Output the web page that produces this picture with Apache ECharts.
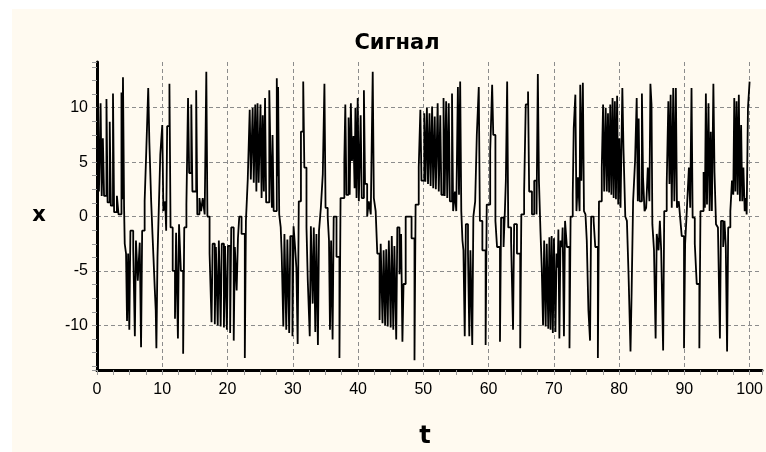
<!DOCTYPE html>
<html>
<head>
<meta charset="utf-8">
<title>Сигнал</title>
<script src="https://cdn.jsdelivr.net/npm/echarts@6/dist/echarts.min.js"></script>
<style>
  html, body { margin: 0; padding: 0; background: #fff; }
  #chart { width: 766px; height: 452px; }
</style>
</head>
<body>
<div id="chart"></div>
<script>
// sampled signal, [t, x] = value x held from time t until the next point
const sig0to17 = [
  [0, 6.5], [0.3, 2.3], [0.55, 10.4], [0.72, 1.9], [0.9, 7.2], [1.08, 1.9], [1.45, 10.8], [1.62, 1.3],
  [1.95, 8.7], [2.12, 1.0], [2.45, 11.3], [2.62, 0.4], [3.05, 1.9], [3.3, 0.2], [3.75, 11.4], [3.9, 1.6],
  [3.98, 12.8], [4.15, 0.8], [4.25, -2.5], [4.45, -3.4], [4.6, -9.6], [4.77, -3.4], [4.95, -10.4],
  [5.12, -1.3], [5.55, -3.0], [5.8, -11.0], [5.97, -2.2], [6.25, -5.9], [6.55, -2.4], [6.75, -12.0],
  [6.92, -1.3], [7.3, 1.4], [7.55, 6.0], [7.85, 11.8], [8.02, 6.9], [8.3, 1.4], [8.5, -1.6],
  [8.65, -3.7], [8.85, -6.6], [9.0, -8.6], [9.1, -12.1], [9.27, -3.7], [9.5, 1.4], [9.7, 5.7],
  [10.0, 8.4], [10.17, 0.5], [10.45, 1.4], [10.6, -1.3], [10.75, 8.3], [11.1, 12.2], [11.27, -1.0],
  [11.6, -5.0], [11.95, -9.4], [12.12, -1.5], [12.4, -11.2], [12.57, -0.7], [12.85, -5.0],
  [13.2, -12.6], [13.37, -1.0], [13.7, 1.1], [13.95, 10.9], [14.12, 4.0], [14.45, 10.3],
  [14.62, 2.3], [15.2, 11.6], [15.37, 0.2], [15.7, 1.7], [15.95, 0.5], [16.2, 1.7], [16.5, 0.2],
  [16.75, 13.3], [16.92, 0.0], [17.25, -3.4]
];
const sig17to34 = [
  [17.55, -9.7], [17.72, -2.5], [18.05, -9.9], [18.22, -2.8], [18.5, -10.0], [18.67, -2.2],
  [18.95, -10.1], [19.12, -2.5], [19.45, -10.2], [19.62, -2.7], [19.9, -10.4], [20.07, -2.7],
  [20.4, -10.7], [20.57, -1.0], [20.95, -11.4], [21.12, -2.8], [21.4, -6.8], [21.6, -2.0],
  [21.8, 0.0], [22.15, -1.6], [22.65, -13.0], [22.82, -0.4], [23.1, 3.4],
  [23.4, 9.8], [23.57, 3.4], [23.85, 10.0], [24.02, 3.1], [24.25, 10.3], [24.42, 2.3], [24.6, 10.4],
  [24.77, 3.1], [25.05, 10.3], [25.22, 1.7], [25.4, 9.3], [25.57, 2.3], [25.75, 10.9], [25.92, 1.3],
  [26.4, 11.6], [26.57, 6.1], [26.8, 0.8], [26.9, 7.5], [27.07, 0.5], [27.55, 12.7], [27.7, 3.7],
  [27.75, 11.9], [27.92, 0.2], [28.15, -1.0], [28.3, -3.4],
  [28.55, -10.1], [28.72, -1.6], [29.0, -10.4], [29.17, -2.1], [29.45, -10.7], [29.62, -1.8],
  [29.95, -11.0], [30.12, -0.9], [30.35, -2.8], [30.55, -4.7], [30.75, -11.7], [30.92, 1.4],
  [31.25, 7.8], [31.6, 12.4], [31.77, 4.5], [32.1, -1.0], [32.3, -5.9], [32.6, -11.0],
  [32.77, -0.9], [33.05, -8.0], [33.22, -1.0], [33.45, -10.6], [33.62, -1.6], [33.85, -11.8],
  [34.02, -1.3]
];
const sig34to49 = [
  [34.3, 0.8], [34.6, 3.9], [34.85, 12.2], [35.02, 0.8], [35.35, 0.0], [35.55, -2.2],
  [35.7, -10.4], [35.87, -2.2], [36.1, -11.3], [36.27, 0.0], [36.7, -3.7], [37.15, -13.0],
  [37.32, 1.7], [37.9, 5.2], [38.05, 10.3], [38.22, 2.0], [38.55, 9.1], [38.72, 2.0], [38.9, 10.4],
  [39.07, 5.1], [39.3, 7.4], [39.47, 2.6], [39.6, 10.0], [39.77, 1.7], [39.95, 10.9], [40.12, 1.4],
  [40.4, 9.3], [40.57, 1.7], [40.9, 11.6], [41.07, 3.0], [41.4, 0.0], [41.65, 1.4], [41.95, 0.2],
  [42.25, 13.3], [42.42, 1.7], [42.7, 0.5], [42.95, -3.4],
  [43.3, -9.5], [43.47, -2.5], [43.75, -9.8], [43.92, -3.1], [44.15, -10.0], [44.32, -3.0],
  [44.55, -10.1], [44.72, -2.2], [45.0, -10.2], [45.17, -1.8], [45.4, -10.4], [45.57, -2.7],
  [45.85, -11.3], [46.02, -1.0], [46.35, -5.3], [46.6, -1.6], [46.8, -11.5], [46.97, -6.2],
  [47.3, 0.0], [48.2, -2.0], [48.65, -13.2], [48.82, 1.1], [49.3, 4.5]
];
const sig49to68 = [
  [49.55, 9.8], [49.72, 3.3], [50.15, 9.5], [50.32, 3.2], [50.55, 10.0], [50.72, 3.0], [50.95, 9.5],
  [51.12, 2.8], [51.35, 10.1], [51.52, 2.6], [51.75, 9.2], [51.92, 2.5], [52.2, 10.4], [52.37, 2.3],
  [52.6, 9.3], [52.77, 2.0], [53.1, 10.9], [53.27, 1.9], [53.5, 10.6], [53.67, 1.7], [53.9, 10.4],
  [54.07, 1.4], [54.4, 11.3], [54.57, 0.5], [54.85, 2.3], [55.05, 0.5], [55.3, 11.9], [55.47, 2.0],
  [55.65, 12.4], [55.82, 0.5], [56.0, -2.2], [56.15, -3.1],
  [56.35, -11.0], [56.52, -0.7], [56.85, -3.4], [57.05, -11.0], [57.22, -3.1], [57.5, -11.8],
  [57.67, 0.0], [57.95, 1.4], [58.2, 7.5], [58.5, 11.9], [58.67, -0.4], [59.05, -3.1],
  [59.55, -11.8], [59.72, 1.1], [60.25, 6.0], [60.55, 12.1], [60.72, 7.5], [61.05, -0.4],
  [61.3, -2.8], [61.75, -11.5], [61.92, -0.1], [62.3, -2.8], [62.5, 0.5], [62.65, 3.3],
  [62.85, 12.4], [63.02, -1.0], [63.45, -2.2], [63.75, -10.4], [63.92, -0.7], [64.35, -3.4],
  [64.85, -12.1], [65.02, 0.2], [65.45, 2.3], [65.7, 10.3], [66.05, 11.5], [66.22, 2.3],
  [66.65, 0.2], [67.0, 3.3], [67.35, 0.2], [67.55, 13.1], [67.72, 3.3], [67.95, -1.3], [68.15, -4.7]
];
const sig68to85 = [
  [68.35, -10.0], [68.52, -2.2], [68.75, -10.1], [68.92, -2.5], [69.15, -10.3], [69.32, -1.9],
  [69.5, -10.4], [69.67, -1.8], [69.85, -10.7], [70.02, -2.0], [70.25, -10.6], [70.42, -3.4],
  [70.6, -4.7], [70.7, -1.2], [70.85, -11.2], [71.02, -2.2], [71.25, -2.8], [71.35, -1.0],
  [71.55, -11.0], [71.72, -0.4], [72.0, -2.8], [72.4, -12.1], [72.57, 0.0], [72.9, 2.0],
  [73.05, 8.1], [73.3, 11.2], [73.47, 0.5], [73.7, 3.6], [73.95, 0.5], [74.05, 12.1], [74.22, 3.3],
  [74.45, 12.3], [74.62, 0.5], [74.85, 0.2], [75.05, -2.2], [75.3, -8.6], [75.55, -11.4],
  [75.72, 0.0], [76.1, -0.4], [76.35, -2.8], [76.75, -13.0], [76.92, 1.4], [77.35, 4.5],
  [77.55, 10.3], [77.72, 2.3], [77.95, 10.0], [78.12, 2.3], [78.3, 9.5], [78.47, 2.2], [78.65, 10.3],
  [78.82, 2.0], [79.0, 10.9], [79.17, 1.7], [79.35, 10.6], [79.52, 1.6], [79.7, 11.1], [79.87, 1.1],
  [80.05, 7.2], [80.22, 0.8], [80.5, 11.8], [80.67, 6.3], [80.95, 0.0], [81.2, -0.4], [81.45, -5.3],
  [81.75, -12.4], [81.92, -7.0], [82.15, 1.4], [82.45, 5.1], [82.7, 10.9], [82.87, 1.4],
  [83.0, 9.0], [83.17, 1.4], [83.5, 11.3], [83.67, 3.6], [83.9, 0.5], [84.15, 0.8], [84.4, 4.5],
  [84.65, 1.4], [84.8, 12.2], [84.97, 10.3], [85.1, -0.7], [85.35, -3.1]
];
const sig85to100 = [
  [85.6, -11.2], [85.77, -1.6], [86.05, -3.1], [86.25, -0.4], [86.45, -3.1], [86.75, -12.3],
  [86.92, 0.5], [87.3, 3.0], [87.55, 10.6], [87.72, 3.0], [87.9, 11.2], [88.07, 0.8], [88.3, 11.8],
  [88.47, 1.4], [88.7, 11.8], [88.87, 0.8], [89.15, 1.4], [89.4, -0.4], [89.6, -1.8],
  [89.95, -12.1], [90.12, -2.5], [90.4, 0.8], [90.7, 4.5], [90.9, 0.8], [91.1, 11.8], [91.27, -0.1],
  [91.6, -2.5], [91.9, -6.2], [92.3, -12.1], [92.47, 0.5], [92.95, 4.1], [93.15, 0.8], [93.3, 11.3],
  [93.47, 1.1], [93.7, 10.4], [93.87, 0.5], [94.05, 7.8], [94.22, 0.5], [94.45, 12.2], [94.62, 4.1],
  [94.85, -0.7], [95.15, -1.0], [95.45, -11.2], [95.62, -0.4], [95.95, -2.8], [96.15, -0.4],
  [96.35, -2.7], [96.55, -12.4], [96.72, -1.0], [97.05, 0.5], [97.3, 3.3], [97.5, 2.0],
  [97.65, 10.9], [97.82, 2.3], [98.0, 10.6], [98.17, 2.0], [98.35, 11.2], [98.52, 1.4], [98.7, 8.4],
  [98.87, 1.4], [99.05, 4.5], [99.25, 0.5], [99.4, 1.7], [99.55, 0.2], [99.75, 10.0],
  [100.0, 12.4], [100.1, 12.4]
];

const signal = [].concat(sig0to17, sig17to34, sig34to49, sig49to68, sig68to85, sig85to100);

const chart = echarts.init(document.getElementById("chart"));

const gridDash = { color: "#8c8c8c", width: 1, type: [4, 3] };
const tickFont = { color: "#000", fontFamily: "Liberation Sans, Arial", fontSize: 16 };

const option = {
  animation: false,
  backgroundColor: "#fff",
  graphic: [
    // cream panel behind the chart
    { type: "rect", left: 12, top: 9, z: -10, shape: { width: 754, height: 443 }, style: { fill: "#fffaf0" } },
    { type: "text", x: 397, y: 44, style: { text: "Сигнал", font: "bold 21px 'DejaVu Sans'", fill: "#000", align: "center", verticalAlign: "middle" } },
    { type: "text", x: 39, y: 216, style: { text: "x", font: "bold 21px 'DejaVu Sans'", fill: "#000", align: "center", verticalAlign: "middle" } },
    { type: "text", x: 425, y: 437, style: { text: "t", font: "bold 24px 'DejaVu Sans'", fill: "#000", align: "center", verticalAlign: "middle" } }
  ],
  grid: { left: 97, top: 62, width: 665, height: 308, containLabel: false },
  xAxis: {
    type: "value",
    min: 0,
    max: 101.9,
    interval: 10,
    axisLine: { show: true, onZero: false, lineStyle: { color: "#000", width: 3 } },
    axisTick: { show: true, length: 5, lineStyle: { color: "#999" } },
    minorTick: { show: true, splitNumber: 4, length: 5, lineStyle: { color: "#999" } },
    axisLabel: { ...tickFont, margin: 12, showMaxLabel: false },
    splitLine: { show: true, showMinLine: false, showMaxLine: false, lineStyle: gridDash }
  },
  yAxis: {
    type: "value",
    min: -14.1,
    max: 14.2,
    splitNumber: 6,
    axisLine: { show: true, onZero: false, lineStyle: { color: "#000", width: 3 } },
    axisTick: { show: true, length: 5, lineStyle: { color: "#999" } },
    minorTick: { show: true, splitNumber: 4, length: 5, lineStyle: { color: "#999" } },
    axisLabel: { ...tickFont, margin: 9, showMinLabel: false, showMaxLabel: false },
    splitLine: { show: true, showMinLine: false, showMaxLine: false, lineStyle: gridDash }
  },
  series: [
    {
      type: "line",
      step: "end",
      data: signal,
      showSymbol: false,
      symbol: "none",
      lineStyle: { color: "#000", width: 1.8 },
      z: 3
    }
  ]
};

chart.setOption(option);
</script>
</body>
</html>
